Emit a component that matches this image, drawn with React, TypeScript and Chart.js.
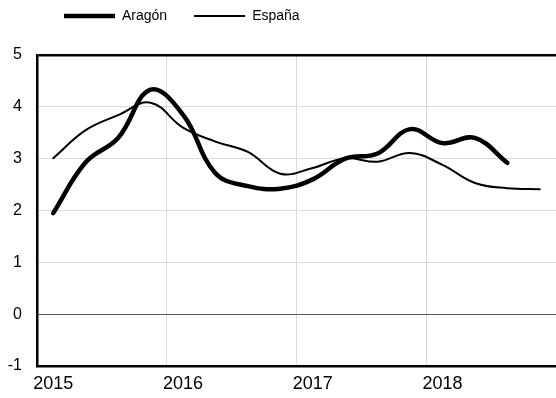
import { useEffect, useRef } from 'react';
import { Chart, registerables } from 'chart.js';

Chart.register(...registerables);

// ---- data ----
const YEARS = ['2015', '2016', '2017', '2018'];
const QUARTERS = ['T1', 'T2', 'T3', 'T4'];
const CATEGORIES = YEARS.flatMap((y) => QUARTERS.map((q) => `${q} ${y}`));

const ARAGON: (number | null)[] = [1.95, 2.93, 3.40, 4.33, 3.85, 2.72, 2.47, 2.42, 2.60, 3.00, 3.10, 3.57, 3.30, 3.40, 2.92, null];
const ESPANA: number[] = [3.01, 3.55, 3.84, 4.08, 3.60, 3.33, 3.13, 2.71, 2.82, 3.01, 2.94, 3.11, 2.88, 2.53, 2.43, 2.41];

const Y_MIN = -1;
const Y_MAX = 5;

const FONT = "'Liberation Sans', Arial, Helvetica, sans-serif";

export default function App() {
  const ref = useRef<HTMLCanvasElement>(null);

  useEffect(() => {
    if (!ref.current) return;
    const legendShift = {
      id: 'legendShift',
      afterLayout(chart: any) {
        const lg = chart.legend;
        if (lg) {
          lg.top -= 22;
          lg.bottom -= 22;
        }
      },
    };
    const chart = new Chart(ref.current, {
      type: 'line',
      data: {
        labels: CATEGORIES,
        datasets: [
          {
            label: 'Aragón',
            data: ARAGON,
            borderColor: '#000',
            backgroundColor: '#000',
            borderWidth: 4.5,
            pointRadius: 0,
            tension: 0.4,
            borderCapStyle: 'round',
            borderJoinStyle: 'round',
          },
          {
            label: 'España',
            data: ESPANA,
            borderColor: '#000',
            backgroundColor: '#000',
            borderWidth: 2,
            pointRadius: 0,
            tension: 0.4,
            borderCapStyle: 'round',
            borderJoinStyle: 'round',
          },
        ],
      },
      options: {
        animation: false,
        responsive: false,
        layout: { padding: { top: 4, left: 0, right: 0, bottom: 0 } },
        plugins: {
          legend: {
            display: true,
            position: 'top',
            align: 'start',
            fullSize: false,
            labels: {
              usePointStyle: true,
              pointStyle: 'line',
              pointStyleWidth: 51,
              padding: 27,
              color: '#000',
              font: { family: FONT, size: 14 },
            },
          },
          tooltip: { enabled: false },
        },
        scales: {
          x: {
            type: 'category',
            offset: true,
            grid: {
              offset: true,
              drawTicks: false,
              color: (ctx: any) =>
                ctx.index > 0 && ctx.index < CATEGORIES.length && ctx.index % 4 === 0 ? '#d9d9d9' : 'rgba(0,0,0,0)',
              lineWidth: 1,
            },
            border: { display: true, color: '#000', width: 2.5 },
            ticks: {
              autoSkip: false,
              maxRotation: 0,
              padding: 7,
              color: '#000',
              font: { family: FONT, size: 18 },
              callback: (_v: any, i: number) => (i % 4 === 0 ? YEARS[i / 4] : ''),
            },
            afterFit: (s: any) => {
              s.height = 32;
            },
          },
          y: {
            min: Y_MIN,
            max: Y_MAX,
            ticks: {
              stepSize: 1,
              padding: 15,
              color: '#000',
              font: { family: FONT, size: 16 },
            },
            grid: {
              drawTicks: false,
              color: (ctx: any) => {
                const v = ctx.tick?.value;
                if (v === Y_MAX) return '#000';
                if (v === Y_MIN) return 'rgba(0,0,0,0)';
                if (v === 0) return '#595959';
                return '#d9d9d9';
              },
              lineWidth: (ctx: any) => (ctx.tick?.value === Y_MAX ? 2.5 : 1),
            },
            border: { display: true, color: '#000', width: 2.5 },
            afterFit: (s: any) => {
              s.width = 37;
            },
          },
        },
      },
      plugins: [legendShift],
    } as any);
    return () => chart.destroy();
  }, []);

  return (
    <div style={{ position: 'absolute', left: 0, top: 0, width: 556, height: 398, background: '#fff' }}>
      <canvas ref={ref} width={556} height={398} style={{ display: 'block' }} />
    </div>
  );
}
